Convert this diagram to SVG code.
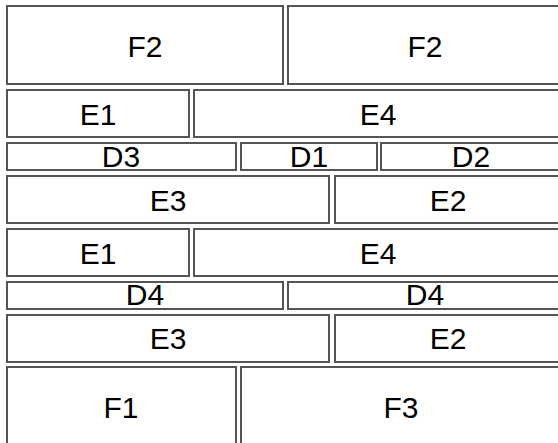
<svg xmlns="http://www.w3.org/2000/svg" width="558" height="443" viewBox="0 0 558 443">
<style>
.box{fill:#ffffff;stroke:#555555;stroke-width:2}
.lbl{font-family:"Liberation Sans","DejaVu Sans",sans-serif;font-size:30px;fill:#000000;text-anchor:middle}
</style>
<rect width="558" height="443" fill="#ffffff"/>
<g id="r1-F2a"><rect class="box" x="7" y="6" width="276" height="78"/><text class="lbl" x="145" y="57">F2</text></g>
<g id="r1-F2b"><rect class="box" x="288" y="6" width="274" height="78"/><text class="lbl" x="425" y="57">F2</text></g>
<g id="r2-E1"><rect class="box" x="7" y="90" width="182" height="47"/><text class="lbl" x="98" y="125">E1</text></g>
<g id="r2-E4"><rect class="box" x="194" y="90" width="368" height="47"/><text class="lbl" x="378" y="125">E4</text></g>
<g id="r3-D3"><rect class="box" x="7" y="143" width="229" height="27"/><text class="lbl" x="121" y="167">D3</text></g>
<g id="r3-D1"><rect class="box" x="241" y="143" width="136" height="27"/><text class="lbl" x="309" y="167">D1</text></g>
<g id="r3-D2"><rect class="box" x="381" y="143" width="181" height="27"/><text class="lbl" x="471" y="167">D2</text></g>
<g id="r4-E3"><rect class="box" x="7" y="176" width="322" height="47"/><text class="lbl" x="168" y="211">E3</text></g>
<g id="r4-E2"><rect class="box" x="335" y="176" width="227" height="47"/><text class="lbl" x="448" y="211">E2</text></g>
<g id="r5-E1"><rect class="box" x="7" y="229" width="182" height="47"/><text class="lbl" x="98" y="264">E1</text></g>
<g id="r5-E4"><rect class="box" x="194" y="229" width="368" height="47"/><text class="lbl" x="378" y="264">E4</text></g>
<g id="r6-D4a"><rect class="box" x="7" y="282" width="276" height="27"/><text class="lbl" x="145" y="305">D4</text></g>
<g id="r6-D4b"><rect class="box" x="288" y="282" width="274" height="27"/><text class="lbl" x="425" y="305">D4</text></g>
<g id="r7-E3"><rect class="box" x="7" y="315" width="322" height="47"/><text class="lbl" x="168" y="349">E3</text></g>
<g id="r7-E2"><rect class="box" x="335" y="315" width="227" height="47"/><text class="lbl" x="448" y="349">E2</text></g>
<g id="r8-F1"><rect class="box" x="7" y="367" width="229" height="80"/><text class="lbl" x="121" y="418">F1</text></g>
<g id="r8-F3"><rect class="box" x="241" y="367" width="321" height="80"/><text class="lbl" x="401" y="418">F3</text></g>
<g id="connectors"/>
</svg>
